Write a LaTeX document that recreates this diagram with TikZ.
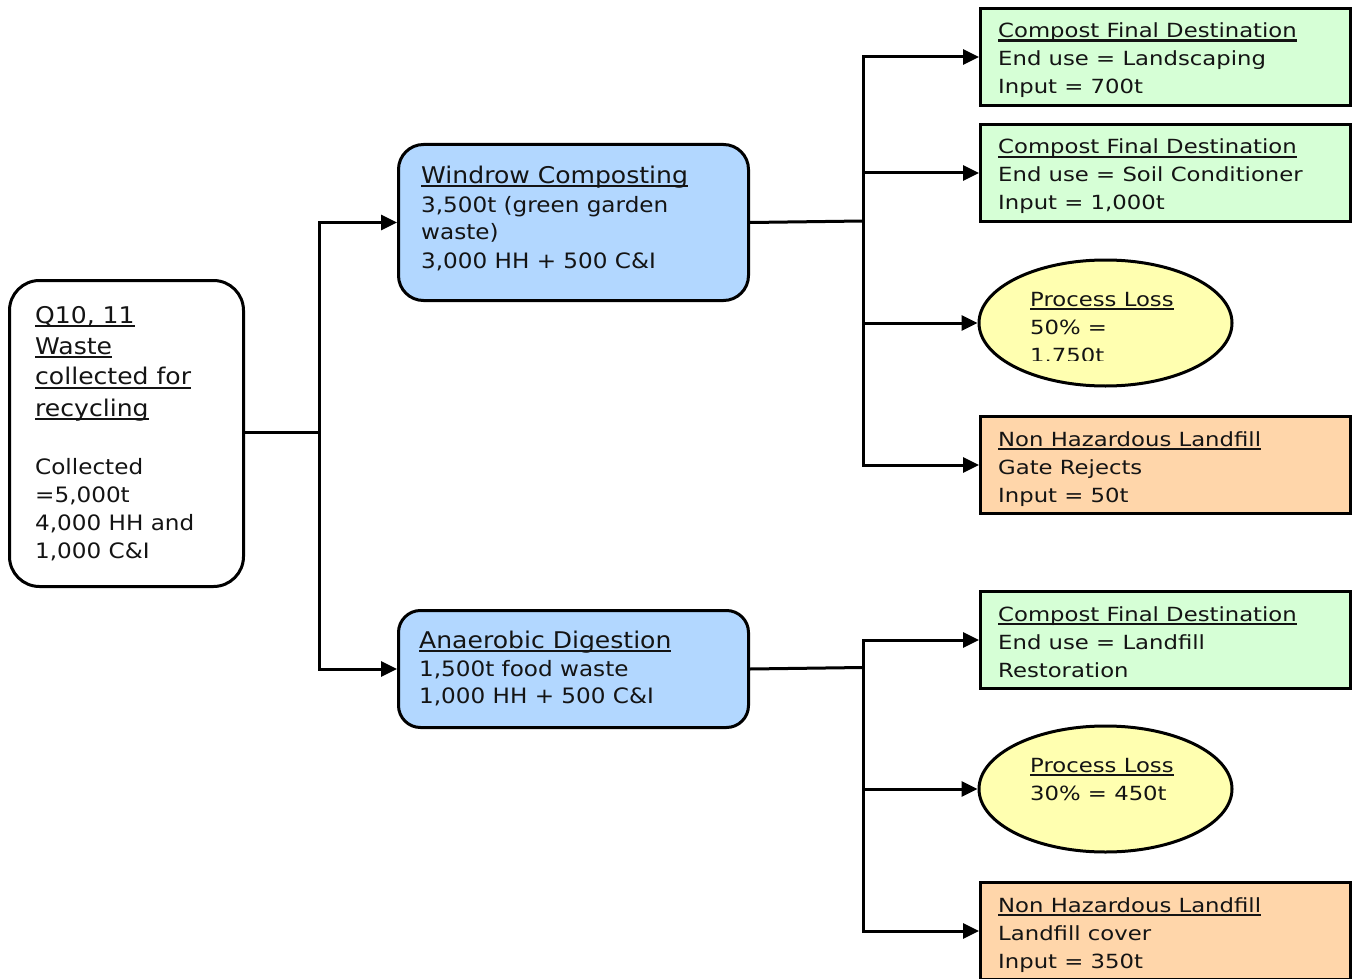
\documentclass[tikz,border=0pt]{standalone}
\usepackage{fontspec}
\setmainfont{DejaVu Sans}
\newfontfamily\midfont[FakeStretch=1.09]{DejaVu Sans}
\newfontfamily\sidefont[FakeStretch=1.167]{DejaVu Sans}
\usetikzlibrary{arrows.meta,shapes.geometric}

\definecolor{procblue}{RGB}{178,215,255}
\definecolor{destgreen}{RGB}{214,255,214}
\definecolor{lossyellow}{RGB}{255,255,176}
\definecolor{fillorange}{RGB}{255,214,170}
\definecolor{ink}{RGB}{20,20,20}

% underlined heading text
\newsavebox\ttlbox
\newcommand\ulttl[1]{\sbox\ttlbox{#1}\rlap{\vrule width\wd\ttlbox height -2pt depth 4.2pt}\usebox\ttlbox}
% font set-ups
\newcommand\headfont{\midfont\fontsize{23}{31}\selectfont}
\newcommand\bodyfont{\midfont\fontsize{21.2}{28}\selectfont}
\newcommand\outfont{\sidefont\fontsize{19.5}{28}\selectfont}

\tikzset{
  boxline/.style={draw=black, line width=3pt},
  roundbox/.style={boxline, rectangle, rounded corners=#1, inner sep=0pt, anchor=north west},
  destbox/.style={boxline, rectangle, fill=destgreen, inner sep=0pt, anchor=north west,
                  minimum width=370pt, minimum height=97pt},
  landbox/.style={destbox, fill=fillorange},
  lossell/.style={boxline, ellipse, fill=lossyellow, inner sep=0pt,
                  minimum width=253pt, minimum height=126pt},
  txt/.style={inner sep=0pt, anchor=base west, text=ink},
  flow/.style={line width=3pt, -{Triangle[length=16pt,width=15pt]}},
  joint/.style={line width=3pt},
}

\begin{document}
\begin{tikzpicture}[x=1pt,y=-1pt]
\useasboundingbox (0,0) rectangle (1353,979);

% ---------- source ----------
\node[roundbox=30pt, fill=white, minimum width=234pt, minimum height=306pt] (src) at (8,279) {};
\node[txt] (srct) at (35,323) {\headfont\vtop{%
  \hbox{\ulttl{Q10, 11}}\hbox{\ulttl{Waste}}\hbox{\ulttl{collected for}}\hbox{\ulttl{recycling}}}};
\node[txt] (srcb) at (35,474) {\bodyfont\vtop{%
  \hbox{Collected}\hbox{=5,000t}\hbox{4,000 HH and}\hbox{1,000 C\&I}}};

% ---------- treatment ----------
\node[roundbox=25pt, fill=procblue, minimum width=350pt, minimum height=156pt] (wc) at (397,143) {};
\node[txt] (wct) at (421,183) {\headfont\ulttl{Windrow Composting}};
\node[txt] (wcb) at (421,212) {\bodyfont\vtop{%
  \hbox{3,500t (green garden}\hbox{waste)}\hbox{3,000 HH + 500 C\&I}}};

\node[roundbox=22pt, fill=procblue, minimum width=350pt, minimum height=117pt] (ad) at (397,609) {};
\node[txt] (adt) at (419,648) {\headfont\ulttl{Anaerobic Digestion}};
\node[txt] (adb) at (419,676) {\bodyfont\baselineskip=27pt\vtop{%
  \hbox{1,500t food waste}\hbox{1,000 HH + 500 C\&I}}};

% ---------- windrow outputs ----------
\node[destbox] (g1) at (979,7) {};
\begin{scope}
  \clip (g1.north west) rectangle ([yshift=7pt]g1.south east);
  \node[txt] (g1t) at (998,37.5) {\outfont\vtop{%
    \hbox{\ulttl{Compost Final Destination}}\hbox{End use = Landscaping}\hbox{Input = 700t}}};
\end{scope}

\node[destbox] (g2) at (979,123) {};
\begin{scope}
  \clip (g2.north west) rectangle ([yshift=7pt]g2.south east);
  \node[txt] (g2t) at (998,154) {\outfont\vtop{%
    \hbox{\ulttl{Compost Final Destination}}\hbox{End use = Soil Conditioner}\hbox{Input = 1,000t}}};
\end{scope}

\node[lossell] (pl1) at (1105.5,323) {};
\begin{scope}
  \clip (1000,270) rectangle (1220,360);
  \node[txt] (pl1t) at (1030,306) {\outfont\vtop{%
    \hbox{\ulttl{Process Loss}}\hbox{50\% =}\hbox{1.750t}}};
\end{scope}

\node[landbox] (o1) at (979,415) {};
\begin{scope}
  \clip (o1.north west) rectangle ([yshift=7pt]o1.south east);
  \node[txt] (o1t) at (998,446) {\outfont\vtop{%
    \hbox{\ulttl{Non Hazardous Landfill}}\hbox{Gate Rejects}\hbox{Input = 50t}}};
\end{scope}

% ---------- digestion outputs ----------
\node[destbox] (g3) at (979,590) {};
\node[txt] (g3t) at (998,621) {\outfont\vtop{%
  \hbox{\ulttl{Compost Final Destination}}\hbox{End use = Landfill}\hbox{Restoration}}};

\node[lossell] (pl2) at (1105.5,789) {};
\node[txt] (pl2t) at (1030,772) {\outfont\vtop{%
  \hbox{\ulttl{Process Loss}}\hbox{30\% = 450t}}};

\node[landbox] (o2) at (979,881) {};
\begin{scope}
  \clip (o2.north west) rectangle ([yshift=7pt]o2.south east);
  \node[txt] (o2t) at (998,912) {\outfont\vtop{%
    \hbox{\ulttl{Non Hazardous Landfill}}\hbox{Landfill cover}\hbox{Input = 350t}}};
\end{scope}

% ---------- connectors ----------
\coordinate (s1) at (319,432);
\draw[joint] (src.east |- s1) -- (s1);
\draw[flow] (s1) |- (wc.west);
\draw[flow] (s1) |- (ad.west);

\coordinate (w1) at (863,221);
\draw[joint] (wc.east) -- (w1);
\draw[flow] (w1) |- (g1.west);
\draw[flow] (w1) |- (g2.west);
\draw[flow] (w1) |- (pl1.west);
\draw[flow] (w1) |- (o1.west);

\coordinate (a1) at (863,667.5);
\draw[joint] (ad.east) -- (a1);
\draw[flow] (a1) |- (g3.west);
\draw[flow] (a1) |- (pl2.west);
\draw[flow] (a1) |- (o2.west);
\end{tikzpicture}
\end{document}
